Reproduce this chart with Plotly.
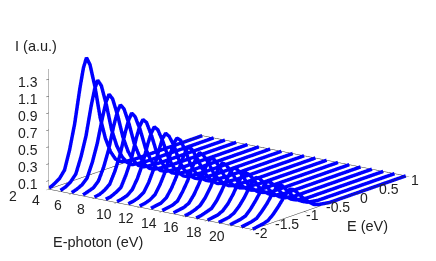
import plotly.graph_objects as go

photon_energy = list(range(2, 21))
electron_energy = [-2, -1.9, -1.8, -1.7, -1.6, -1.5, -1.4, -1.33, -1.27, -1.2, -1.1, -1, -0.9, -0.8, -0.7, -0.6, -0.5, -0.3, 1]
intensity = [
    [.01,.04,.08,.16,.38,.67,1.06,1.29,1.40,1.30,1.01,.63,.37,.19,.08,.03,.01,0,0],
    [.01,.03,.07,.14,.32,.55,.88,1.07,1.16,1.08,.83,.52,.31,.16,.07,.02,.01,0,0],
    [.01,.03,.06,.12,.28,.49,.77,.94,1.02,.95,.73,.46,.27,.14,.06,.02,.01,0,0],
    [.01,.03,.05,.11,.25,.44,.70,.85,.92,.86,.66,.41,.24,.12,.05,.02,.01,0,0],
    [.01,.02,.05,.10,.23,.40,.64,.78,.85,.79,.61,.38,.22,.11,.05,.02,.01,0,0],
    [.01,.02,.05,.09,.22,.38,.61,.74,.80,.75,.57,.35,.21,.11,.05,.02,.01,0,0],
    [.01,.02,.04,.09,.20,.35,.56,.68,.74,.69,.53,.33,.19,.10,.04,.01,.01,0,0],
    [.01,.02,.04,.08,.18,.32,.52,.64,.69,.64,.50,.30,.18,.09,.04,.01,.01,0,0],
    [.01,.02,.04,.08,.18,.31,.50,.61,.66,.62,.47,.29,.17,.09,.04,.01,.01,0,0],
    [.01,.02,.03,.07,.16,.28,.44,.53,.58,.54,.42,.27,.16,.08,.03,.01,.01,0,0],
    [.01,.02,.03,.06,.15,.26,.41,.50,.54,.50,.39,.25,.15,.08,.03,.01,.01,0,0],
    [.01,.02,.03,.06,.14,.25,.38,.46,.50,.47,.36,.23,.14,.07,.03,.01,.01,0,0],
    [0,.01,.03,.06,.13,.23,.36,.43,.47,.44,.34,.22,.13,.07,.03,.01,0,0,0],
    [0,.01,.03,.05,.12,.22,.33,.40,.44,.41,.32,.20,.12,.06,.03,.01,0,0,0],
    [0,.01,.02,.05,.11,.20,.31,.38,.41,.38,.30,.19,.11,.06,.02,.01,0,0,0],
    [0,.01,.02,.05,.11,.19,.29,.35,.38,.35,.27,.17,.10,.05,.02,.01,0,0,0],
    [0,.01,.02,.04,.10,.18,.27,.33,.36,.33,.26,.17,.10,.05,.02,.01,0,0,0],
    [0,.01,.02,.04,.10,.17,.26,.31,.34,.32,.24,.16,.09,.05,.02,.01,0,0,0],
    [0,.01,.02,.04,.09,.16,.24,.29,.32,.30,.23,.15,.09,.04,.02,.01,0,0,0],
]
photon_ticks = [2, 4, 6, 8, 10, 12, 14, 16, 18, 20]
electron_ticks = [-2, -1.5, -1, -0.5, 0, 0.5, 1]
electron_labels = ["-2", "-1.5", "-1", "-0.5", "0", "0.5", "1"]
intensity_ticks = [0.1, 0.3, 0.5, 0.7, 0.9, 1.1, 1.3]
photon_range = [1.98, 20.02]
electron_range = [-2.005, 1.005]
intensity_range = [-0.002, 1.42]

FONT = "Liberation Sans, Arial, sans-serif"
TEXT = "#222222"
TICK_FONT = dict(family=FONT, size=14, color=TEXT)

fig = go.Figure()
# Back edges of the floor
fig.add_trace(go.Scatter3d(x=[photon_ticks[0]] * 2, y=[electron_ticks[0], electron_ticks[-1]], z=[0, 0],
                           mode="lines", line=dict(color="#333333", width=1), showlegend=False, hoverinfo="skip"))
fig.add_trace(go.Scatter3d(x=[photon_ticks[0], photon_ticks[-1]], y=[electron_ticks[-1]] * 2, z=[0, 0],
                           mode="lines", line=dict(color="#333333", width=1), showlegend=False, hoverinfo="skip"))
for p, row in zip(photon_energy, intensity):
    fig.add_trace(go.Scatter3d(
        x=[p] * len(electron_energy), y=electron_energy, z=row,
        mode="lines", line=dict(color="#0000ff", width=7),
        showlegend=False, hoverinfo="skip"))

scene_notes = []
for v in photon_ticks:
    scene_notes.append(dict(x=v, y=-2, z=0, text=str(v), showarrow=False,
                            xanchor="center", yanchor="middle", xshift=-36, yshift=-7,
                            font=TICK_FONT))
for v, t in zip(electron_ticks, electron_labels):
    scene_notes.append(dict(x=20, y=v, z=0, text=t, showarrow=False,
                            xanchor="center", yanchor="middle", xshift=9, yshift=-4,
                            font=TICK_FONT))
for v in intensity_ticks:
    scene_notes.append(dict(x=2, y=-2, z=v, text=f"{v:.1f}", showarrow=False,
                            xanchor="right", yanchor="middle", xshift=-9, yshift=-3,
                            font=TICK_FONT))

axis_common = dict(title=dict(text=""), showbackground=False, showgrid=False, zeroline=False,
                   showspikes=False, showticklabels=False, showline=True,
                   ticks="inside", ticklen=4, tickcolor="#333333", tickwidth=1)

# Page body has an 8px margin: figure is 428x253; plot area spans px x 19..436, y 8..237.
def px(x):
    return (x - 19) / 417
def py(y):
    return (237 - y) / 229

fig.update_layout(
    width=428, height=253, margin=dict(l=11, r=0, t=0, b=24),
    paper_bgcolor="white", showlegend=False,
    scene=dict(
        domain=dict(x=[0, 1], y=[0, 1]),
        xaxis=dict(axis_common, range=photon_range, tickvals=photon_ticks, linecolor="#333333", linewidth=1),
        yaxis=dict(axis_common, range=electron_range, tickvals=electron_ticks, linecolor="#333333", linewidth=1),
        zaxis=dict(axis_common, range=intensity_range, tickvals=intensity_ticks, linecolor="#777777", linewidth=1),
        aspectmode="manual", aspectratio=dict(x=2.23, y=2.23, z=1.088),
        camera=dict(projection=dict(type="orthographic"),
                    eye=dict(x=1.467, y=-1.947, z=0.663),
                    up=dict(x=0, y=0, z=1), center=dict(x=0, y=0, z=0)),
        annotations=scene_notes,
    ),
    annotations=[
        dict(text="I (a.u.)", x=px(36), y=py(46), xref="paper", yref="paper", showarrow=False,
             xanchor="center", yanchor="middle", font=dict(family=FONT, size=14.5, color=TEXT)),
        dict(text="E-photon (eV)", x=px(98), y=py(242), xref="paper", yref="paper", showarrow=False,
             xanchor="center", yanchor="middle", font=dict(family=FONT, size=14.5, color=TEXT)),
        dict(text="E (eV)", x=px(367), y=py(226), xref="paper", yref="paper", showarrow=False,
             xanchor="center", yanchor="middle", font=dict(family=FONT, size=14.5, color=TEXT)),
    ],
)
fig.write_html("out.html")
